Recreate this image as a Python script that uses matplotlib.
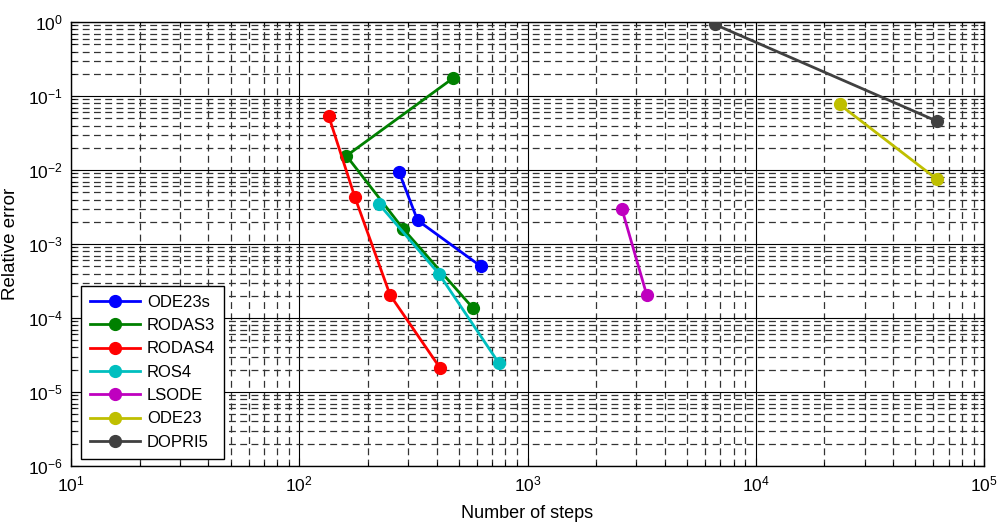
#!/usr/bin/env python3
"""Work-precision diagram: relative error vs number of steps per solver."""

import matplotlib
matplotlib.use("Agg")
import matplotlib.pyplot as plt
from matplotlib.ticker import LogLocator, NullFormatter

plt.rcParams["font.family"] = ["Liberation Sans", "DejaVu Sans"]

# ─── Data ────────────────────────────────────────────────────────────────────

solvers = ["ODE23s", "RODAS3", "RODAS4", "ROS4", "LSODE", "ODE23", "DOPRI5"]

ode23s_steps = [274, 330, 625]
ode23s_err = [9.3e-3, 2.09e-3, 5.0e-4]

rodas3_steps = [470, 161, 285, 575]
rodas3_err = [0.173, 1.56e-2, 1.61e-3, 1.38e-4]

rodas4_steps = [134.5, 175, 250, 414]
rodas4_err = [5.4e-2, 4.36e-3, 2.05e-4, 2.11e-5]

ros4_steps = [223, 409, 747]
ros4_err = [3.5e-3, 3.97e-4, 2.49e-5]

lsode_steps = [2590, 3330]
lsode_err = [3.0e-3, 2.05e-4]

ode23_steps = [23300, 62300]
ode23_err = [7.7e-2, 7.5e-3]

dopri5_steps = [6620, 62500]
dopri5_err = [0.93, 4.55e-2]

colors = ["#0000ff", "#008000", "#ff0000", "#00bfbf",
          "#bf00bf", "#bfbf00", "#404040"]

# ─── Chart ───────────────────────────────────────────────────────────────────

fig = plt.figure(figsize=(10, 5.26), dpi=100)
ax = fig.add_axes([0.071, 0.114, 0.913, 0.844])

series = [
    (ode23s_steps, ode23s_err),
    (rodas3_steps, rodas3_err),
    (rodas4_steps, rodas4_err),
    (ros4_steps, ros4_err),
    (lsode_steps, lsode_err),
    (ode23_steps, ode23_err),
    (dopri5_steps, dopri5_err),
]
for (x, y), name, c in zip(series, solvers, colors):
    ax.plot(x, y, "-o", color=c, label=name, linewidth=2,
            markersize=8.5, zorder=3)

ax.set_xscale("log")
ax.set_yscale("log")
ax.set_xlim(10, 1e5)
ax.set_ylim(1e-6, 1)

ax.xaxis.set_major_locator(LogLocator(base=10, numticks=10))
ax.yaxis.set_major_locator(LogLocator(base=10, numticks=10))
ax.xaxis.set_minor_locator(LogLocator(base=10, subs=range(2, 10), numticks=20))
ax.yaxis.set_minor_locator(LogLocator(base=10, subs=range(2, 10), numticks=20))
ax.xaxis.set_minor_formatter(NullFormatter())
ax.yaxis.set_minor_formatter(NullFormatter())
ax.xaxis.get_offset_text().set_visible(False)
ax.yaxis.get_offset_text().set_visible(False)

ax.grid(which="major", color="black", linestyle="-", linewidth=0.8)
ax.grid(which="minor", color="#333333", linestyle=(0, (5.5, 3.5)),
        linewidth=0.9)
ax.set_axisbelow(True)

ax.tick_params(which="both", direction="in", top=True, right=True,
               labelsize=12.5, pad=6)
ax.tick_params(which="major", length=6)
ax.tick_params(which="minor", length=3)
for s in ax.spines.values():
    s.set_linewidth(1.0)

ax.set_xlabel("Number of steps", fontsize=13, labelpad=8)
ax.set_ylabel("Relative error", fontsize=13.5, labelpad=6)

leg = ax.legend(loc="lower left", bbox_to_anchor=(0.011, 0.016),
                borderaxespad=0, fontsize=12, handlelength=3.0,
                handletextpad=0.4, labelspacing=0.5, fancybox=False,
                framealpha=1, edgecolor="black", borderpad=0.55)
leg.get_frame().set_linewidth(1.0)

fig.savefig("out.png", dpi=100)
plt.close(fig)
